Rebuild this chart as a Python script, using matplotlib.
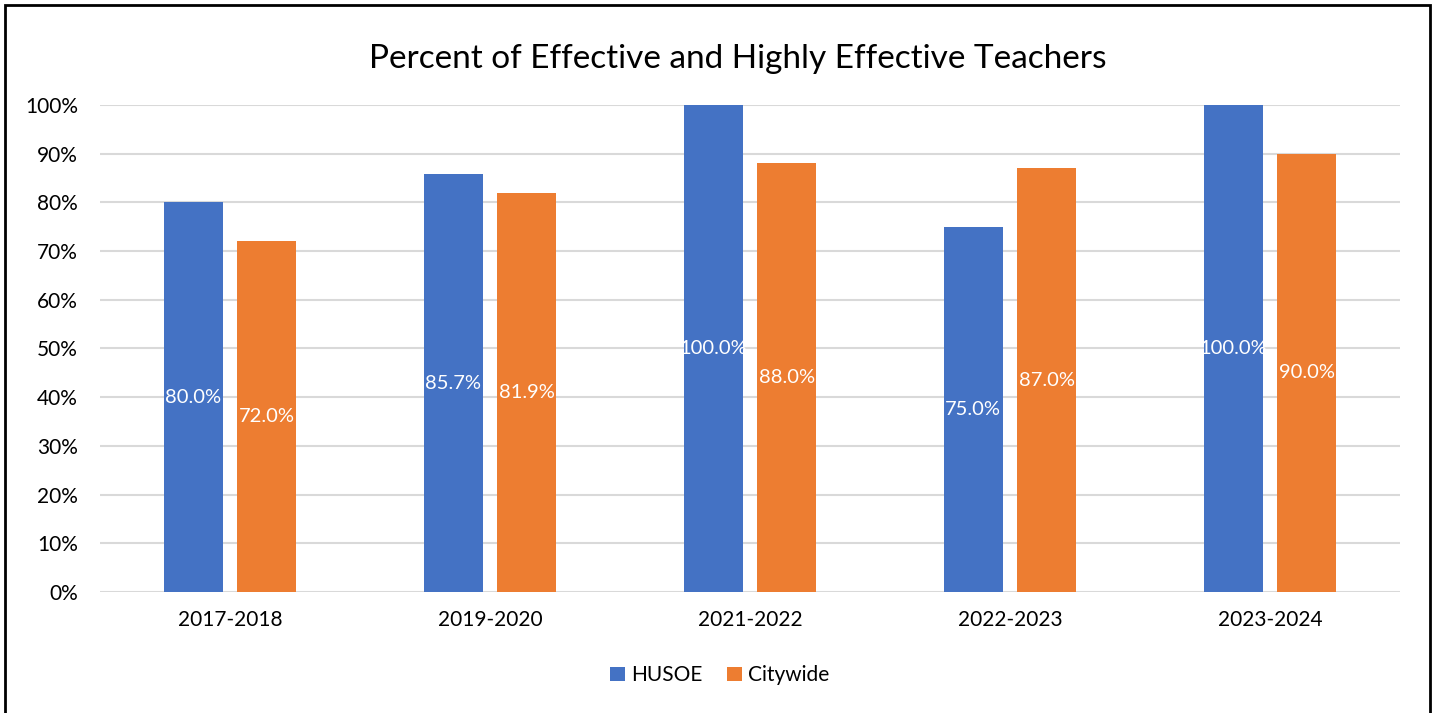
import numpy as np
import matplotlib
matplotlib.use('Agg')
from matplotlib import pyplot as plt
from matplotlib.patches import Rectangle
from matplotlib.ticker import PercentFormatter

plt.rcParams['font.family'] = ['Lato', 'DejaVu Sans']

# data
years = ['2017-2018', '2019-2020', '2021-2022', '2022-2023', '2023-2024']
husoe = [80.0, 85.7, 100.0, 75.0, 100.0]
citywide = [72.0, 81.9, 88.0, 87.0, 90.0]

blue = '#4472C4'
orange = '#ED7D31'

fig = plt.figure(figsize=(14.37, 7.13), dpi=100)
ax = fig.add_axes([0.0696, 0.1697, 0.9046, 0.6833])

x = np.arange(len(years))
w = 0.227
b1 = ax.bar(x - 0.142, husoe, w, color=blue, label='HUSOE', zorder=3)
b2 = ax.bar(x + 0.142, citywide, w, color=orange, label='Citywide', zorder=3)

# labels in the middle of each bar
for bars, vals in ((b1, husoe), (b2, citywide)):
    for r, v in zip(bars, vals):
        ax.text(r.get_x() + r.get_width() / 2, v / 2, f'{v:.1f}%',
                ha='center', va='center', color='white', fontsize=14.5, zorder=4)

ax.set_xlim(-0.5, len(years) - 0.5)
ax.set_ylim(0, 100)
ax.set_yticks(np.arange(0, 101, 10))
ax.yaxis.set_major_formatter(PercentFormatter(decimals=0))
ax.set_xticks(x)
ax.set_xticklabels(years)
ax.tick_params(axis='both', length=0, labelsize=15, colors='#000000')
ax.tick_params(axis='x', pad=13)
ax.tick_params(axis='y', pad=16)
ax.grid(axis='y', color='#d9d9d9', linewidth=1.5, zorder=0)
for s in ax.spines.values():
    s.set_visible(False)

fig.text(0.5135, 0.917, 'Percent of Effective and Highly Effective Teachers',
         ha='center', va='center', fontsize=24)

fig.legend(loc='center', bbox_to_anchor=(0.501, 0.053), ncol=2, frameon=False,
           fontsize=15, handlelength=0.7, handleheight=0.7, columnspacing=1.2,
           handletextpad=0.3)

# outer chart border
fig.patches.append(Rectangle((5 / 1437, -0.05), 1425 / 1437, 1.05 - 5 / 713,
                             transform=fig.transFigure, fill=False,
                             edgecolor='black', linewidth=2))

fig.savefig('out.png', dpi=100)
